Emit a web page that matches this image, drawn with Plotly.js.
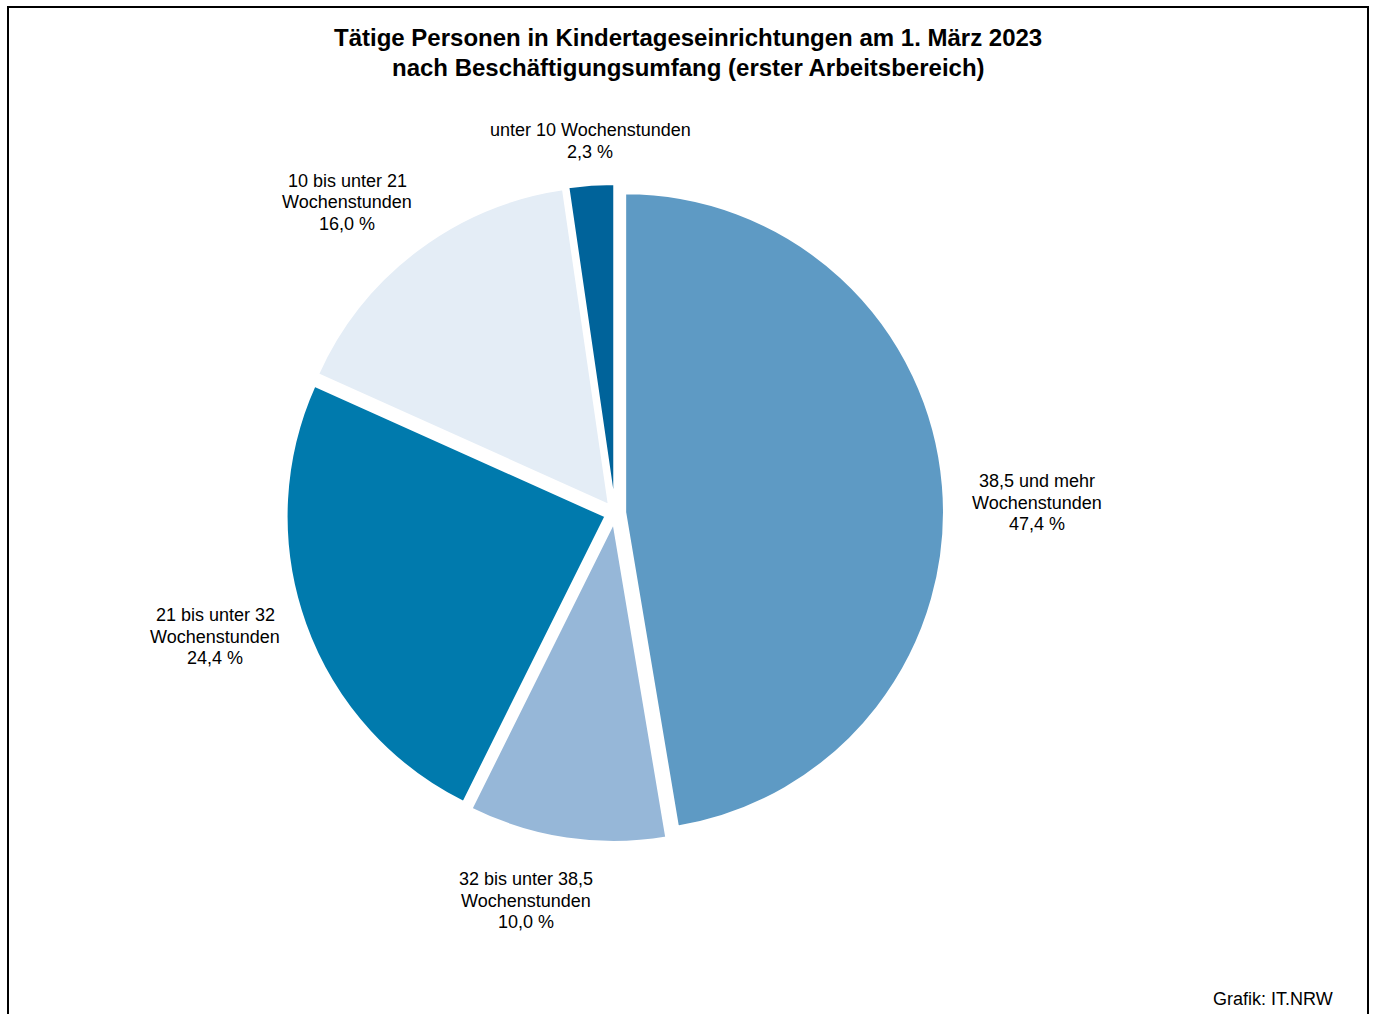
<!DOCTYPE html>
<html>
<head>
<meta charset="utf-8">
<script src="https://cdn.plot.ly/plotly-3.0.1.min.js"></script>
<style>
html,body{margin:0;padding:0;background:#fff;overflow:hidden;}
#chart{width:1375px;height:1014px;}
</style>
</head>
<body>
<div id="chart"></div>
<script>
// Data
const categories = [
  "38,5 und mehr Wochenstunden",
  "32 bis unter 38,5 Wochenstunden",
  "21 bis unter 32 Wochenstunden",
  "10 bis unter 21 Wochenstunden",
  "unter 10 Wochenstunden"
];
const labelLines = [
  ["38,5 und mehr", "Wochenstunden"],
  ["32 bis unter 38,5", "Wochenstunden"],
  ["21 bis unter 32", "Wochenstunden"],
  ["10 bis unter 21", "Wochenstunden"],
  ["unter 10 Wochenstunden"]
];
const values = [47.4, 10.0, 24.4, 16.0, 2.3];
const colors = ["#5e9ac4", "#96b7d8", "#007aad", "#e4edf6", "#00639a"];
const titleLines = [
  "Tätige Personen in Kindertageseinrichtungen am 1. März 2023",
  "nach Beschäftigungsumfang (erster Arbeitsbereich)"
];
const source = "Grafik: IT.NRW";

// Label anchor positions (pixels: center x, first line y)
const labelPos = [
  [1037, 481],
  [526, 879],
  [215, 615],
  [347, 181],
  [590, 130]
];

const W = 1375, H = 1014;
const px = x => x / W;
const py = y => 1 - y / H;
const fmt = v => v.toFixed(1).replace('.', ',') + ' %';

const annotations = [];
const LH = 21.5;
labelLines.forEach((lines, i) => {
  const all = lines.concat([fmt(values[i])]);
  all.forEach((t, j) => {
    annotations.push({
      xref: 'paper', yref: 'paper',
      x: px(labelPos[i][0]), y: py(labelPos[i][1] + j * LH),
      xanchor: 'center', yanchor: 'middle',
      text: t, showarrow: false,
      font: {family: 'Liberation Sans, Arial, sans-serif', size: 18, color: '#000'}
    });
  });
});
titleLines.forEach((t, j) => {
  annotations.push({
    xref: 'paper', yref: 'paper',
    x: px(688), y: py(38 + j * 29),
    xanchor: 'center', yanchor: 'middle',
    text: '<b>' + t + '</b>', showarrow: false,
    font: {family: 'Liberation Sans, Arial, sans-serif', size: 24, color: '#000'}
  });
});
annotations.push({
  xref: 'paper', yref: 'paper',
  x: px(1335), y: py(999),
  xanchor: 'right', yanchor: 'middle',
  text: source, showarrow: false,
  font: {family: 'Liberation Sans, Arial, sans-serif', size: 18, color: '#000'}
});

const trace = {
  type: 'pie',
  labels: categories,
  values: values,
  sort: false,
  direction: 'clockwise',
  rotation: 0,
  pull: values.map(() => 0.032),
  marker: {colors: colors, line: {color: '#ffffff', width: 2}},
  textinfo: 'none',
  hoverinfo: 'label+percent',
  showlegend: false,
  domain: {x: [px(286), px(944)], y: [py(842), py(184)]}
};

const layout = {
  width: W, height: H,
  margin: {l: 0, r: 0, t: 0, b: 0},
  paper_bgcolor: '#fff',
  showlegend: false,
  annotations: annotations,
  shapes: [{
    type: 'rect', xref: 'paper', yref: 'paper',
    x0: px(8), x1: px(1368), y0: py(1030), y1: py(7),
    line: {color: '#000', width: 2}, fillcolor: 'rgba(0,0,0,0)'
  }]
};

Plotly.newPlot('chart', [trace], layout, {displayModeBar: false, staticPlot: true});
</script>
</body>
</html>
